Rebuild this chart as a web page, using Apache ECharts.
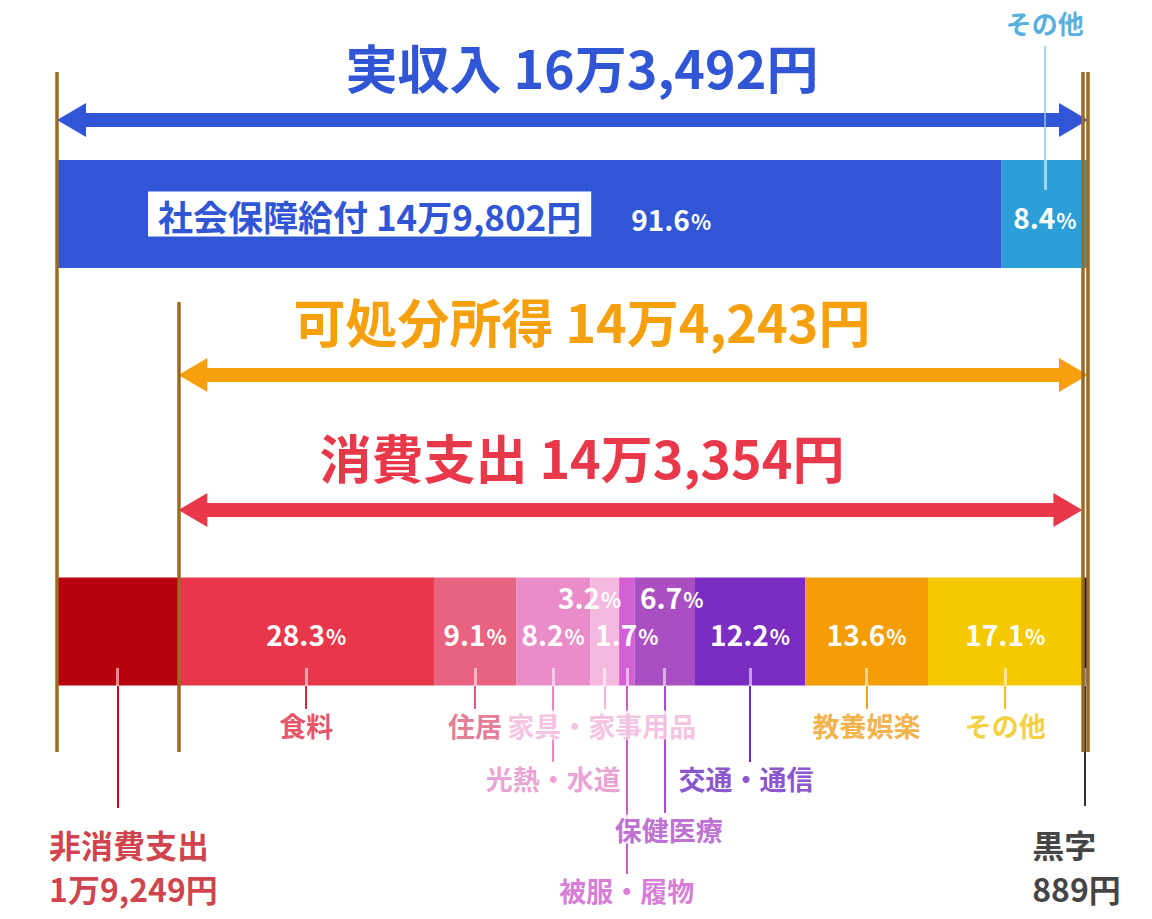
<!DOCTYPE html>
<html lang="ja">
<head>
<meta charset="utf-8">
<title>実収入と支出の内訳</title>
<script src="https://cdn.jsdelivr.net/npm/echarts@6/dist/echarts.min.js"></script>
<style>
  html, body { margin: 0; padding: 0; background: #fff; }
  #chart { width: 1152px; height: 919px; }
</style>
</head>
<body>
<div id="chart"></div>
<script>
// 収入の内訳（円）
const incomeCats = ['社会保障給付', 'その他'];
const incomeValues = [149802, 13690];
const incomePct = [91.6, 8.4];
const realIncome = 163492;
const disposableIncome = 144243;

// 支出の内訳
const nonConsumption = 19249;
const consumption = 143354;
const surplus = 889;
const spendCats = ['食料', '住居', '光熱・水道', '家具・家事用品', '被服・履物', '保健医療', '交通・通信', '教養娯楽', 'その他'];
const spendPct = [28.3, 9.1, 8.2, 3.2, 1.7, 6.7, 12.2, 13.6, 17.1];

// 見た目
const FONT = '"Noto Sans CJK JP", "Noto Sans", sans-serif';
const incomeColors = ['#3056d6', '#2d9fd8'];
const spendColors = ['#e8364a', '#e9627f', '#ea8cc9', '#f5b8de', '#d35fd4', '#a94fc1', '#7b2cc1', '#f49d04', '#f5c900'];
const spendTextColors = ['#e0263f', '#e05a7a', '#e48bc7', '#f2b4da', '#cc5ccc', '#ad4cc6', '#6a28bf', '#f0a01c', '#f2c40f'];
const nonConsColor = '#b9000e';
const surplusColor = '#241713';
const brown = '#9c6b22';
const spendLabelY = [725, 725, 778, 725, 890, 829, 778, 725, 725];
const spendLabelDx = [0, 0, 0, -3, 0, 4, -4, 0, 0];
const pctOffset = [[0, 2], [0, 2], [0, 2], [-15, -35], [0, 2], [7, -35], [0, 2], [0, 2], [0, 2]];

function yen(v) {
  const man = Math.floor(v / 10000);
  const rest = v % 10000;
  if (!man) return rest + '円';
  return man + '万' + rest.toLocaleString('en-US') + '円';
}

const pctSum = spendPct.reduce((a, b) => a + b, 0);
const spendValues = spendPct.map(p => p / pctSum * consumption);

// 各区分の中心（円）
const spendCenters = [];
let acc = nonConsumption;
spendValues.forEach(v => { spendCenters.push(acc + v / 2); acc += v; });
const consEnd = nonConsumption + consumption;

const pctRich = {
  n: { fontFamily: FONT, fontSize: 28, fontWeight: 'bold', color: '#fff', verticalAlign: 'bottom' },
  p: { fontFamily: FONT, fontSize: 21, fontWeight: 'bold', color: '#fff', verticalAlign: 'bottom', padding: [0, 0, 1, 1] }
};

const series = [];
const BW = 108;

series.push({
  name: incomeCats[0], type: 'bar', stack: 'all', barWidth: BW,
  xAxisIndex: 0, yAxisIndex: 0, z: 2,
  itemStyle: { color: incomeColors[0] },
  data: [incomeValues[0], '-'],
  label: {
    show: true, position: 'insideLeft', distance: 91,
    formatter: () => '{box|' + incomeCats[0] + ' ' + yen(incomeValues[0]) + '}{n|' + incomePct[0] + '}{p|%}',
    rich: {
      box: { fontFamily: FONT, fontSize: 35, fontWeight: 'bold', color: '#3056d6', backgroundColor: '#fff', padding: [6, 10, 4, 10], verticalAlign: 'bottom' },
      n: Object.assign({}, pctRich.n, { padding: [0, 0, 4, 40] }),
      p: Object.assign({}, pctRich.p, { padding: [0, 0, 5, 1] })
    }
  }
});
series.push({
  name: incomeCats[1], type: 'bar', stack: 'all', barWidth: BW,
  xAxisIndex: 0, yAxisIndex: 0, z: 2,
  itemStyle: { color: incomeColors[1] },
  data: [incomeValues[1], '-'],
  label: { show: true, position: 'inside', offset: [0, 3], formatter: () => '{n|' + incomePct[1] + '}{p|%}', rich: pctRich }
});
series.push({
  name: '非消費支出', type: 'bar', stack: 'all', barWidth: BW,
  xAxisIndex: 0, yAxisIndex: 0, z: 2,
  itemStyle: { color: nonConsColor },
  data: ['-', nonConsumption]
});
spendCats.forEach((c, i) => {
  series.push({
    name: c, type: 'bar', stack: 'all', barWidth: BW,
    xAxisIndex: 0, yAxisIndex: 0, z: 2,
    itemStyle: { color: spendColors[i] },
    data: ['-', spendValues[i]],
    label: { show: true, position: 'inside', offset: pctOffset[i], formatter: () => '{n|' + spendPct[i] + '}{p|%}', rich: pctRich }
  });
});
series.push({
  name: '黒字', type: 'bar', stack: 'all', barWidth: BW,
  xAxisIndex: 0, yAxisIndex: 0, z: 2,
  itemStyle: { color: surplusColor },
  data: ['-', surplus]
});

// 両矢印
const arrowData = [
  [0, realIncome, 120],
  [nonConsumption, realIncome, 375],
  [nonConsumption, consEnd, 510]
];
const arrowColors = ['#3056d6', '#f5a00c', '#e8384a'];
series.push({
  type: 'custom', xAxisIndex: 1, yAxisIndex: 1, z: 3, silent: true,
  encode: { x: [0, 1], y: 2 },
  data: arrowData,
  renderItem: (params, api) => {
    const a = api.coord([api.value(0), api.value(2)]);
    const b = api.coord([api.value(1), api.value(2)]);
    const hl = 29, hw = 17, sw = 7;
    return {
      type: 'polygon',
      shape: { points: [
        [a[0], a[1]], [a[0] + hl, a[1] - hw], [a[0] + hl, a[1] - sw],
        [b[0] - hl, b[1] - sw], [b[0] - hl, b[1] - hw], [b[0], b[1]],
        [b[0] - hl, b[1] + hw], [b[0] - hl, b[1] + sw],
        [a[0] + hl, a[1] + sw], [a[0] + hl, a[1] + hw]
      ] },
      style: { fill: arrowColors[params.dataIndex] }
    };
  }
});

// 茶色の縦線
const guideX = [0, nonConsumption, consEnd, realIncome];
const guideTop = [72, 302, 72, 72];
series.push({
  type: 'lines', coordinateSystem: 'cartesian2d', xAxisIndex: 1, yAxisIndex: 1, z: 4, silent: true,
  lineStyle: { color: brown, width: 3.5, opacity: 1 },
  data: guideX.map((x, i) => ({ coords: [[x, guideTop[i]], [x, 752]] }))
});

// 引き出し線
const leaders = [];
const ticks = [];
spendCats.forEach((c, i) => {
  ticks.push({ coords: [[spendCenters[i], 668], [spendCenters[i], 686]] });
  leaders.push({ coords: [[spendCenters[i], 686], [spendCenters[i], spendLabelY[i] - 16]], lineStyle: { color: spendTextColors[i] } });
});
const nonConsCenter = nonConsumption / 2;
const surplusCenter = consEnd + surplus / 2;
const otherCenter = incomeValues[0] + incomeValues[1] / 2;
ticks.push({ coords: [[nonConsCenter, 668], [nonConsCenter, 686]] });
leaders.push({ coords: [[nonConsCenter, 686], [nonConsCenter, 808]], lineStyle: { color: '#c4101c' } });
ticks.push({ coords: [[surplusCenter, 668], [surplusCenter, 686]] });
leaders.push({ coords: [[surplusCenter, 686], [surplusCenter, 806]], lineStyle: { color: '#333' } });
ticks.push({ coords: [[otherCenter, 160], [otherCenter, 190]] });
leaders.push({ coords: [[otherCenter, 46], [otherCenter, 160]], lineStyle: { color: '#8cc6ea', width: 1.5 } });

series.push({
  type: 'lines', coordinateSystem: 'cartesian2d', xAxisIndex: 1, yAxisIndex: 1, z: 3, silent: true,
  lineStyle: { color: 'rgba(255,255,255,0.55)', width: 3, opacity: 1 },
  data: ticks
});
series.push({
  type: 'lines', coordinateSystem: 'cartesian2d', xAxisIndex: 1, yAxisIndex: 1, z: 3, silent: true,
  lineStyle: { width: 2, opacity: 1 },
  data: leaders
});

// 区分名ラベル
const labelItems = spendCats.map((c, i) => ({
  value: [spendCenters[i], spendLabelY[i]],
  label: { formatter: c, color: spendTextColors[i], offset: [spendLabelDx[i], 0] }
}));
labelItems.push({
  value: [0, 866],
  label: { formatter: '非消費支出\n' + yen(nonConsumption), color: '#c4101c', fontSize: 32, lineHeight: 44, align: 'left', offset: [-10, 0], padding: [0, 2] }
});
labelItems.push({
  value: [surplusCenter, 866],
  label: { formatter: '黒字\n' + yen(surplus), color: '#111', fontSize: 32, lineHeight: 44, align: 'left', offset: [-55, 0], padding: [0, 2] }
});
labelItems.push({
  value: [otherCenter, 22],
  label: { formatter: incomeCats[1], color: '#2a9ad5', fontSize: 26 }
});

series.push({
  type: 'scatter', xAxisIndex: 1, yAxisIndex: 1, z: 6, silent: true,
  symbolSize: 1, itemStyle: { color: 'rgba(0,0,0,0)' },
  label: {
    show: true, position: 'inside', fontFamily: FONT, fontSize: 27, fontWeight: 'bold',
    backgroundColor: '#fff', padding: [1, 3]
  },
  data: labelItems
});

// 見出し
const headings = [
  { text: '実収入 ' + yen(realIncome), y: 66, color: '#3056d6' },
  { text: '可処分所得 ' + yen(disposableIncome), y: 320, color: '#f5a00c' },
  { text: '消費支出 ' + yen(consumption), y: 456, color: '#e8384a' }
];

const chart = echarts.init(document.getElementById('chart'), null, { renderer: 'svg' });
chart.setOption({
  animation: false,
  backgroundColor: '#fff',
  grid: [
    { left: 57, right: 64, top: 5.25, height: 835 },
    { left: 57, right: 64, top: 0, bottom: 0 }
  ],
  xAxis: [
    { gridIndex: 0, type: 'value', min: 0, max: realIncome, show: false },
    { gridIndex: 1, type: 'value', min: 0, max: realIncome, show: false }
  ],
  yAxis: [
    { gridIndex: 0, type: 'category', data: ['収入', '支出'], inverse: true, show: false },
    { gridIndex: 1, type: 'value', min: 0, max: 919, inverse: true, show: false }
  ],
  graphic: headings.map(h => ({
    type: 'text', x: 582, y: h.y, z: 10, silent: true,
    style: { text: h.text, fill: h.color, font: 'bold 52px ' + FONT, align: 'center', verticalAlign: 'middle' }
  })),
  series: series
});
</script>
</body>
</html>
